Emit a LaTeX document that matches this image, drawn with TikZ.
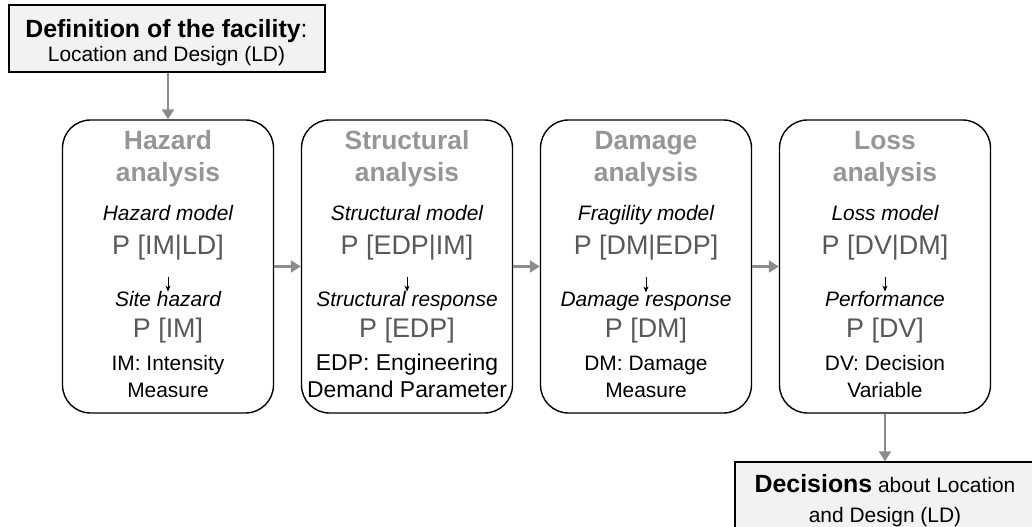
\documentclass[tikz,border=0pt]{standalone}
\usepackage{fontspec}
\setmainfont{Liberation Sans}
\usetikzlibrary{arrows.meta}

\definecolor{titlegray}{RGB}{150,150,150}
\definecolor{probgray}{RGB}{89,89,89}
\definecolor{flowgray}{RGB}{140,140,140}
\definecolor{boxfill}{RGB}{242,242,242}

\tikzset{
stage/.style={draw, line width=1.4bp, rounded corners=28bp, minimum width=211bp, minimum height=293bp},
infobox/.style={draw, fill=boxfill, line width=1.4bp},
ttl/.style={anchor=base, inner sep=0pt, text=titlegray, font=\fontsize{26.5}{32}\selectfont\bfseries},
mdl/.style={anchor=base, inner sep=0pt, font=\fontsize{21}{24}\selectfont\itshape},
prob/.style={anchor=base, inner sep=0pt, text=probgray, font=\fontsize{27}{32}\selectfont},
defn/.style={anchor=base, inner sep=0pt},
boxtext/.style={anchor=base, inner sep=0pt, font=\fontsize{21}{24}\selectfont},
flow/.style={draw=flowgray, line width=2.2bp, -{Triangle[width=12bp,length=10bp,fill=flowgray]}},
inner/.style={line width=0.7bp, -{Stealth[length=6bp,width=5bp]}}
}

\begin{document}
\begin{tikzpicture}[x=1bp, y=-1bp]
\useasboundingbox (0,0) rectangle (1032,527);
\clip (0,0) rectangle (1032,527);

% facility and decisions
\node[infobox, minimum width=316bp, minimum height=67bp] (facility) at (167,38.5) {};
\node[boxtext] (fac1) at (166.5,38) {{\fontsize{25}{26}\selectfont\textbf{Definition of the facility}:}};
\node[boxtext] (fac2) at (166.5,62) {Location and Design (LD)};
\node[infobox, minimum width=300bp, minimum height=70bp] (decisions) at (885,497) {};
\node[boxtext] (dec1) at (885,492) {{\fontsize{25}{26}\selectfont\bfseries Decisions} about Location};
\node[boxtext] (dec2) at (885,522) {and Design (LD)};

% the four stages
\foreach \nm/\cx/\ta/\mdlt/\pa/\rsp/\pb/\ds/\da/\db in {
hz/168/Hazard/Hazard model/{P [IM|LD]}/Site hazard/{P [IM]}/21/IM: Intensity/Measure,
st/407/Structural/Structural model/{P [EDP|IM]}/Structural response/{P [EDP]}/23/EDP: Engineering/Demand Parameter,
dm/646/Damage/Fragility model/{P [DM|EDP]}/Damage response/{P [DM]}/21/DM: Damage/Measure,
ls/885/Loss/Loss model/{P [DV|DM]}/Performance/{P [DV]}/21/DV: Decision/Variable}{
\node[stage] (\nm) at (\cx,266.5) {};
\node[ttl] (\nm-t1) at (\cx,150) {\ta};
\node[ttl] (\nm-t2) at (\cx,182) {analysis};
\node[mdl] (\nm-m) at (\cx,221) {\mdlt};
\node[prob] (\nm-p1) at (\cx,255) {\pa};
\node[mdl] (\nm-r) at (\cx,307) {\rsp};
\node[prob] (\nm-p2) at (\cx,338) {\pb};
\node[defn, font=\fontsize{\ds}{24}\selectfont] (\nm-d1) at (\cx,371) {\da};
\node[defn, font=\fontsize{\ds}{24}\selectfont] (\nm-d2) at (\cx,397) {\db};
\coordinate (\nm-a) at (\cx,277);
\draw[inner] (\nm-a) -- (\nm-r.north);
}

% connectors
\draw[flow] (hz.north |- facility.south) -- (hz.north);
\draw[flow] (hz) -- (st);
\draw[flow] (st) -- (dm);
\draw[flow] (dm) -- (ls);
\draw[flow] (ls.south) -- (ls.south |- decisions.north);
\end{tikzpicture}
\end{document}
